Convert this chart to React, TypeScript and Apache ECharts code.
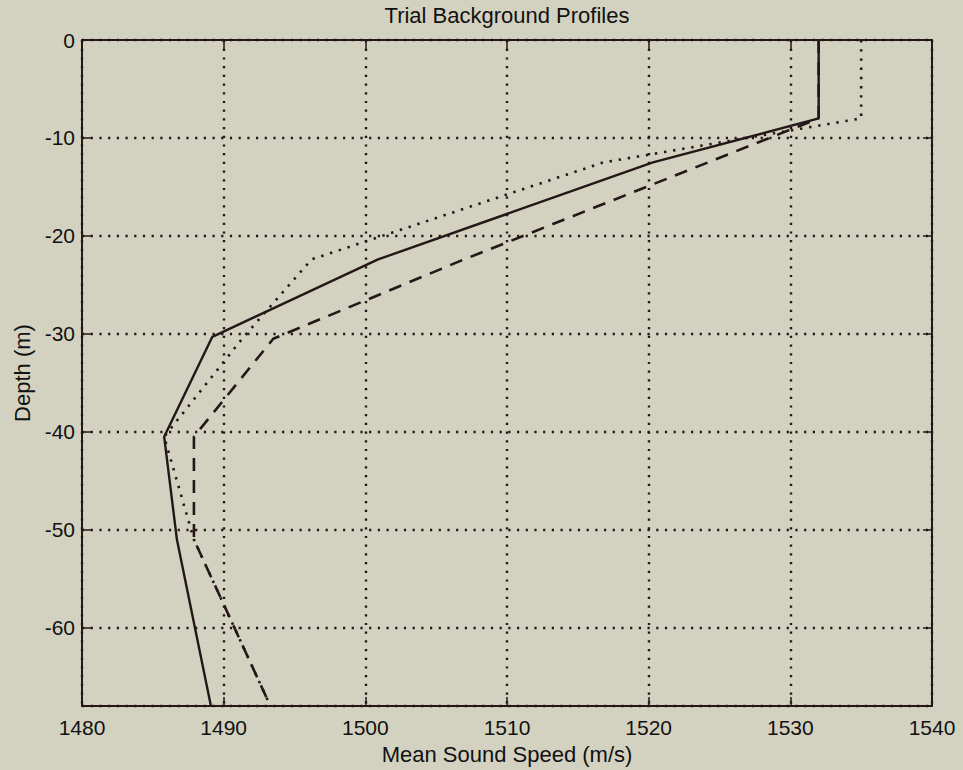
import React, { useEffect, useRef } from "react";
import * as echarts from "echarts";

const TITLE = "Trial Background Profiles";
const X_NAME = "Mean Sound Speed (m/s)";
const Y_NAME = "Depth (m)";

const X_MIN = 1480;
const X_MAX = 1540;
const X_STEP = 10;
// depth below the surface in metres (shown with a minus sign on the axis)
const DEPTH_MIN = 0;
const DEPTH_MAX = 68;
const DEPTH_STEP = 10;

const SOLID_SPEED = [1532, 1532, 1520.3, 1500.9, 1489.2, 1485.8, 1486.7, 1489.1];
const SOLID_DEPTH = [0, 8, 12.5, 22.4, 30.3, 40.5, 51, 68];

const DOTTED_SPEED = [1535, 1535, 1516.8, 1496.2, 1491.3, 1485.8, 1487.9, 1493.3];
const DOTTED_DEPTH = [0, 8, 12.5, 22.4, 30.5, 40.5, 51, 68];

const DASHED_SPEED = [1532, 1532, 1506.8, 1493.5, 1487.9, 1487.9, 1493.3];
const DASHED_DEPTH = [0, 8, 22.5, 30.5, 40.5, 51, 68];

const BG = "#d3d1c0";
const INK = "#231717";
const FONT = "'Liberation Sans', Arial, Helvetica, sans-serif";

const pairs = (xs: number[], ys: number[]) => xs.map((x, i) => [x, ys[i]]);

export default function App() {
  const ref = useRef<HTMLDivElement>(null);

  useEffect(() => {
    document.body.style.margin = "0";
    document.body.style.background = BG;
    if (!ref.current) return;
    const chart = echarts.init(ref.current, null, { renderer: "svg" });

    const gridLine = { show: true, lineStyle: { color: INK, width: 2.4, type: [2.2, 6.5] as any } };

    const option: any = {
      animation: false,
      backgroundColor: BG,
      textStyle: { fontFamily: FONT },
      title: {
        text: TITLE,
        left: 507,
        top: 4,
        padding: 0,
        textAlign: "center",
        textStyle: { fontFamily: FONT, fontSize: 22, fontWeight: "normal", color: "#111" },
      },
      grid: { left: 82, right: 31, top: 40, bottom: 62, containLabel: false },
      xAxis: [
        {
          type: "value",
          position: "bottom",
          min: X_MIN,
          max: X_MAX,
          interval: X_STEP,
          name: X_NAME,
          nameLocation: "middle",
          nameGap: 33,
          nameTextStyle: { fontFamily: FONT, fontSize: 22, color: "#111" },
          axisLine: { show: true, onZero: false, lineStyle: { color: INK, width: 2 } },
          axisTick: { show: true, inside: true, length: 9, lineStyle: { color: INK, width: 1.5 } },
          axisLabel: {
            show: true,
            margin: 11,
            fontFamily: FONT,
            fontSize: 21,
            color: "#111",
            formatter: (v: number) => String(v),
          },
          splitLine: gridLine,
        },
        {
          type: "value",
          position: "top",
          min: X_MIN,
          max: X_MAX,
          interval: X_STEP,
          axisLine: { show: true, onZero: false, lineStyle: { color: INK, width: 2 } },
          axisTick: { show: true, inside: true, length: 9, lineStyle: { color: INK, width: 1.5 } },
          axisLabel: { show: false },
          splitLine: { show: false },
        },
      ],
      yAxis: [
        {
          type: "value",
          position: "left",
          inverse: true,
          min: DEPTH_MIN,
          max: DEPTH_MAX,
          interval: DEPTH_STEP,
          name: Y_NAME,
          nameLocation: "middle",
          nameGap: 49,
          nameRotate: 90,
          nameTextStyle: { fontFamily: FONT, fontSize: 22, color: "#111" },
          axisLine: { show: true, onZero: false, lineStyle: { color: INK, width: 2 } },
          axisTick: { show: true, inside: true, length: 9, lineStyle: { color: INK, width: 1.5 } },
          axisLabel: {
            show: true,
            margin: 7,
            showMaxLabel: false,
            fontFamily: FONT,
            fontSize: 21,
            color: "#111",
            formatter: (v: number) => (v === 0 ? "0" : "-" + v),
          },
          splitLine: gridLine,
        },
        {
          type: "value",
          position: "right",
          inverse: true,
          min: DEPTH_MIN,
          max: DEPTH_MAX,
          interval: DEPTH_STEP,
          axisLine: { show: true, onZero: false, lineStyle: { color: INK, width: 2 } },
          axisTick: { show: true, inside: true, length: 9, lineStyle: { color: INK, width: 1.5 } },
          axisLabel: { show: false },
          splitLine: { show: false },
        },
      ],
      series: [
        {
          type: "line",
          xAxisIndex: 0,
          yAxisIndex: 0,
          data: pairs(SOLID_SPEED, SOLID_DEPTH),
          showSymbol: false,
          symbol: "none",
          lineStyle: { color: INK, width: 2.4, type: "solid" },
          z: 5,
        },
        {
          type: "line",
          xAxisIndex: 0,
          yAxisIndex: 0,
          data: pairs(DOTTED_SPEED, DOTTED_DEPTH),
          showSymbol: false,
          symbol: "none",
          lineStyle: { color: INK, width: 2.6, type: [2.4, 6.8] as any },
          z: 5,
        },
        {
          type: "line",
          xAxisIndex: 0,
          yAxisIndex: 0,
          data: pairs(DASHED_SPEED, DASHED_DEPTH),
          showSymbol: false,
          symbol: "none",
          lineStyle: { color: INK, width: 2.6, type: [13, 9] as any },
          z: 5,
        },
      ],
    };

    chart.setOption(option);
    return () => chart.dispose();
  }, []);

  return <div ref={ref} style={{ width: 963, height: 770, background: BG }} />;
}
